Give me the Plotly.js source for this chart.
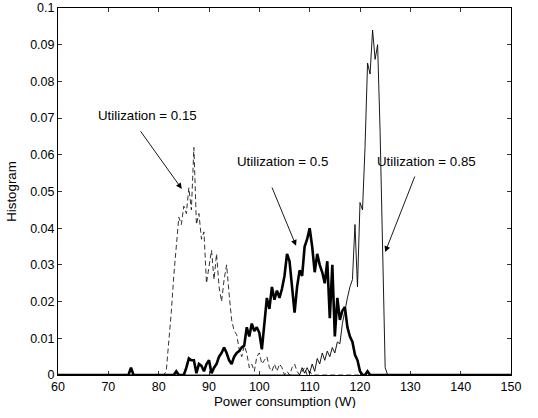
<!DOCTYPE html>
<html><head><meta charset="utf-8">
<script src="https://cdn.plot.ly/plotly-3.0.1.min.js"></script>
<style>html,body{margin:0;padding:0;background:#fff}</style>
</head><body><div id="chart" style="width:538px;height:418px"></div>
<script>
// Utilization = 0.15 (dashed)
const util015X = [60, 80.5, 81, 81.5, 82, 82.5, 83, 83.5, 84, 84.5, 85, 85.5, 86, 86.5, 87, 87.5, 88, 88.5, 89, 89.5, 90, 90.5, 91, 91.5, 92, 92.5, 93, 93.5, 94, 94.5, 95, 95.5, 96, 96.5, 97, 97.5, 98, 98.5, 99, 99.5, 100, 100.5, 101, 101.5, 102, 102.5, 103, 103.5, 104, 104.5, 105, 105.5, 106, 106.5, 107, 107.5, 108, 108.5, 109, 109.5, 110, 110.5, 150];
const util015Y = [0, 0, 0, 0.001, 0.008, 0.017, 0.027, 0.035, 0.043, 0.041, 0.046, 0.044, 0.051, 0.045, 0.062, 0.041, 0.044, 0.037, 0.039, 0.025, 0.030, 0.034, 0.026, 0.033, 0.024, 0.020, 0.026, 0.030, 0.022, 0.015, 0.012, 0.011, 0.007, 0.005, 0.008, 0.006, 0.002, 0.003, 0.001, 0.005, 0.006, 0.003, 0.004, 0.005, 0.002, 0.001, 0.003, 0.001, 0.003, 0.002, 0, 0.001, 0, 0.002, 0.003, 0.001, 0, 0.001, 0.002, 0, 0.001, 0, 0];

// Utilization = 0.5 (thick)
const util05X = [60, 74, 74.5, 75, 83, 83.5, 84, 85, 85.5, 86, 86.5, 87, 87.5, 88, 88.5, 89, 89.5, 90, 90.5, 91, 91.5, 92, 92.5, 93, 93.5, 94, 94.5, 95, 95.5, 96, 96.5, 97, 97.5, 98, 98.5, 99, 99.5, 100, 100.5, 101, 101.5, 102, 102.5, 103, 103.5, 104, 104.5, 105, 105.5, 106, 106.5, 107, 107.5, 108, 108.5, 109, 109.5, 110, 110.5, 111, 111.5, 112, 112.5, 113, 113.5, 114, 114.5, 115, 115.5, 116, 116.5, 117, 117.5, 118, 118.5, 119, 119.5, 120, 120.5, 121, 121.5, 122, 150];
const util05Y = [0, 0, 0.002, 0, 0, 0.001, 0, 0, 0.002, 0.0045, 0.004, 0.004, 0.0005, 0.003, 0.0025, 0.001, 0.003, 0.004, 0.0005, 0.002, 0.003, 0.005, 0.006, 0.0075, 0.006, 0.004, 0.003, 0.005, 0.006, 0.0065, 0.0075, 0.008, 0.013, 0.0105, 0.014, 0.012, 0.013, 0.0115, 0.007, 0.015, 0.021, 0.018, 0.024, 0.0205, 0.023, 0.021, 0.0235, 0.027, 0.033, 0.031, 0.024, 0.017, 0.024, 0.0285, 0.027, 0.035, 0.037, 0.040, 0.035, 0.028, 0.033, 0.030, 0.028, 0.025, 0.031, 0.0155, 0.030, 0.0105, 0.021, 0.015, 0.0175, 0.0185, 0.013, 0.0105, 0.009, 0.0055, 0.004, 0.001, 0, 0, 0.001, 0, 0];

// Utilization = 0.85 (thin solid)
const util085X = [60, 108, 108.5, 109, 109.5, 110, 110.5, 111, 111.5, 112, 112.5, 113, 113.5, 114, 114.5, 115, 115.5, 116, 116.5, 117, 117.5, 118, 118.5, 119, 119.5, 120, 120.5, 121, 121.5, 122, 122.5, 123, 123.5, 124, 124.5, 125, 125.5, 150];
const util085Y = [0, 0, 0.002, 0.0005, 0.002, 0.0005, 0.003, 0.001, 0.0045, 0.003, 0.006, 0.004, 0.0065, 0.005, 0.0075, 0.006, 0.009, 0.0085, 0.014, 0.018, 0.021, 0.024, 0.026, 0.041, 0.024, 0.047, 0.045, 0.062, 0.085, 0.082, 0.094, 0.086, 0.090, 0.066, 0.033, 0.002, 0, 0];

const xTicks = [60, 70, 80, 90, 100, 110, 120, 130, 140, 150];
const yTicks = [0, 0.01, 0.02, 0.03, 0.04, 0.05, 0.06, 0.07, 0.08, 0.09, 0.1];
const yTickText = ['0', '0.01', '0.02', '0.03', '0.04', '0.05', '0.06', '0.07', '0.08', '0.09', '0.1'];
const xTitle = 'Power consumption (W)';
const yTitle = 'Histogram';

const labels = ['Utilization = 0.15', 'Utilization = 0.5', 'Utilization = 0.85'];
const labelX = [77.8, 104.7, 133.3];
const labelY = [0.0708, 0.0583, 0.0583];
const arrowTailX = [76.2, 102.4, 131.0];
const arrowTailY = [0.0668, 0.0515, 0.0545];
const arrowTipX = [84.6, 107.3, 125.0];
const arrowTipY = [0.0507, 0.0352, 0.0335];

const font = {family: 'Liberation Sans, Arial, sans-serif', size: 13.3, color: '#000'};
const tickFont = {family: 'Liberation Sans, Arial, sans-serif', size: 12.5, color: '#000'};

const traces = [
  {x: util015X, y: util015Y, type: 'scatter', mode: 'lines', line: {color: '#000', width: 0.8, dash: '5px,3px'}, hoverinfo: 'skip'},
  {x: util085X, y: util085Y, type: 'scatter', mode: 'lines', line: {color: '#000', width: 0.9}, hoverinfo: 'skip'},
  {x: util05X, y: util05Y, type: 'scatter', mode: 'lines', line: {color: '#000', width: 2.6}, hoverinfo: 'skip'}
];

const annotations = [];
for (let i = 0; i < labels.length; i++) {
  annotations.push({x: labelX[i], y: labelY[i], xref: 'x', yref: 'y', text: labels[i], showarrow: false, font: font, xanchor: 'center', yanchor: 'middle'});
  annotations.push({x: arrowTipX[i], y: arrowTipY[i], xref: 'x', yref: 'y', ax: arrowTailX[i], ay: arrowTailY[i], axref: 'x', ayref: 'y', text: '', showarrow: true, arrowhead: 2, arrowsize: 1.3, arrowwidth: 0.9, arrowcolor: '#000'});
}
// x-axis title placed just under the tick labels
annotations.push({x: 0.5, y: -0.072, xref: 'paper', yref: 'paper', text: xTitle, showarrow: false, font: font, xanchor: 'center', yanchor: 'middle', height: 14, borderpad: 0});

const layout = {
  width: 538, height: 418,
  margin: {l: 58, r: 27, t: 8, b: 43},
  paper_bgcolor: '#fff', plot_bgcolor: '#fff',
  showlegend: false,
  font: font,
  xaxis: {
    range: [60, 150], tickvals: xTicks, ticktext: xTicks.map(String),
    ticks: 'inside', ticklen: 4, tickwidth: 0.8, tickcolor: '#000',
    showline: true, linecolor: '#000', linewidth: 1, mirror: 'ticks',
    showgrid: false, zeroline: false, tickfont: tickFont
  },
  yaxis: {
    range: [0, 0.1], tickvals: yTicks, ticktext: yTickText,
    ticks: 'inside', ticklen: 4, tickwidth: 0.8, tickcolor: '#000',
    showline: true, linecolor: '#000', linewidth: 1, mirror: 'ticks',
    showgrid: false, zeroline: false, tickfont: tickFont,
    title: {text: yTitle, font: font, standoff: 10}
  },
  annotations: annotations
};

Plotly.newPlot('chart', traces, layout, {displayModeBar: false, staticPlot: true});
</script></body></html>
